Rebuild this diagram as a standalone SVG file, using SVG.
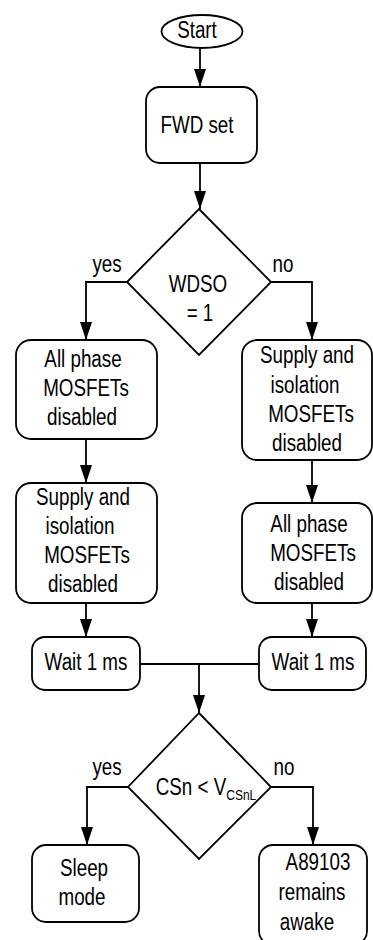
<svg xmlns="http://www.w3.org/2000/svg" width="373" height="940" viewBox="0 0 373 940">
<style>
.n{fill:#fff;stroke:#000;stroke-width:1.8}
.c{fill:none;stroke:#000;stroke-width:1.8}
text{font-family:"Liberation Sans",Arial,sans-serif;font-size:23.5px;fill:#000;text-anchor:middle}
.sub{font-size:15px}
</style>
<defs>
<marker id="ah" markerUnits="userSpaceOnUse" markerWidth="18" markerHeight="13" refX="18" refY="6.5" orient="auto">
<path d="M0,0.5 L18,6.5 L0,12.5 z" fill="#000"/>
</marker>
</defs>
<rect width="373" height="940" fill="#fff"/>
<g id="connectors">
<path class="c" d="M200,48 V87" marker-end="url(#ah)"/>
<path class="c" d="M200,163 V209" marker-end="url(#ah)"/>
<path class="c" d="M127,282 H86 V340" marker-end="url(#ah)"/>
<path class="c" d="M271,282 H312 V340" marker-end="url(#ah)"/>
<path class="c" d="M86,439 V483" marker-end="url(#ah)"/>
<path class="c" d="M312,460 V503" marker-end="url(#ah)"/>
<path class="c" d="M86,603 V637" marker-end="url(#ah)"/>
<path class="c" d="M312,603 V637" marker-end="url(#ah)"/>
<path class="c" d="M140,664 H259"/>
<path class="c" d="M199,664 V713" marker-end="url(#ah)"/>
<path class="c" d="M128,787 H87 V845" marker-end="url(#ah)"/>
<path class="c" d="M271,787 H313 V845" marker-end="url(#ah)"/>
<text transform="matrix(.8 0 0 1 107 0)" y="272">yes</text>
<text transform="matrix(.8 0 0 1 283 0)" y="272">no</text>
<text transform="matrix(.8 0 0 1 107 0)" y="775">yes</text>
<text transform="matrix(.8 0 0 1 284 0)" y="775">no</text>
</g>
<g id="start">
<ellipse class="n" cx="202" cy="31.5" rx="40.5" ry="16.5"/>
<text transform="matrix(.8 0 0 1 197 0)" y="38">Start</text>
</g>
<g id="fwd">
<rect class="n" x="146" y="87" width="111" height="76" rx="14"/>
<text transform="matrix(.8 0 0 1 197 0)" y="133">FWD set</text>
</g>
<g id="wdso">
<path class="n" d="M199,209 L271,282 L199,355 L127,282 Z"/>
<text transform="matrix(.8 0 0 1 198 0)" y="292">WDSO</text>
<text transform="matrix(.8 0 0 1 200 0)" y="321">= 1</text>
</g>
<g id="left1">
<rect class="n" x="16" y="340" width="141" height="99" rx="15"/>
<text transform="matrix(.8 0 0 1 83 0)" y="367">All phase</text>
<text transform="matrix(.8 0 0 1 86 0)" y="396">MOSFETs</text>
<text transform="matrix(.8 0 0 1 82 0)" y="425">disabled</text>
</g>
<g id="right1">
<rect class="n" x="242" y="340" width="130" height="120" rx="15"/>
<text transform="matrix(.8 0 0 1 307 0)" y="363">Supply and</text>
<text transform="matrix(.8 0 0 1 305 0)" y="393">isolation</text>
<text transform="matrix(.8 0 0 1 311 0)" y="422">MOSFETs</text>
<text transform="matrix(.8 0 0 1 307 0)" y="451">disabled</text>
</g>
<g id="left2">
<rect class="n" x="16" y="483" width="141" height="120" rx="15"/>
<text transform="matrix(.8 0 0 1 83 0)" y="505">Supply and</text>
<text transform="matrix(.8 0 0 1 80 0)" y="534">isolation</text>
<text transform="matrix(.8 0 0 1 87 0)" y="563">MOSFETs</text>
<text transform="matrix(.8 0 0 1 83 0)" y="592">disabled</text>
</g>
<g id="right2">
<rect class="n" x="242" y="503" width="130" height="100" rx="15"/>
<text transform="matrix(.8 0 0 1 309 0)" y="532">All phase</text>
<text transform="matrix(.8 0 0 1 313 0)" y="561">MOSFETs</text>
<text transform="matrix(.8 0 0 1 309 0)" y="590">disabled</text>
</g>
<g id="waitL">
<rect class="n" x="32" y="637" width="108" height="53" rx="13"/>
<text transform="matrix(.8 0 0 1 86 0)" y="670">Wait 1 ms</text>
</g>
<g id="waitR">
<rect class="n" x="259" y="637" width="107" height="53" rx="13"/>
<text transform="matrix(.8 0 0 1 313 0)" y="670">Wait 1 ms</text>
</g>
<g id="csn">
<path class="n" d="M199,713 L271,787 L199,859 L128,787 Z"/>
<text transform="matrix(.8 0 0 1 206 0)" y="795">CSn &lt; V<tspan class="sub" dy="5">CSnL</tspan></text>
</g>
<g id="sleep">
<rect class="n" x="32" y="845" width="107" height="77" rx="14"/>
<text transform="matrix(.8 0 0 1 84 0)" y="876">Sleep</text>
<text transform="matrix(.8 0 0 1 82 0)" y="905">mode</text>
</g>
<g id="awake">
<rect class="n" x="259" y="845" width="108" height="100" rx="14"/>
<text transform="matrix(.8 0 0 1 318 0)" y="870">A89103</text>
<text transform="matrix(.8 0 0 1 312 0)" y="900">remains</text>
<text transform="matrix(.8 0 0 1 307 0)" y="930">awake</text>
</g>
</svg>
